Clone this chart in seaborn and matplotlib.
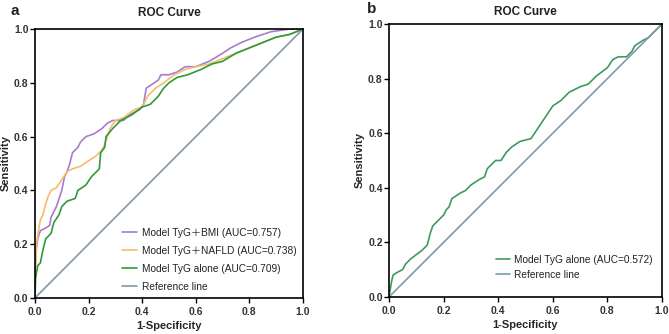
import seaborn as sns
import matplotlib.pyplot as plt
import pandas as pd

# ROC points (1-specificity, sensitivity)
bmi_fpr = [0.0, 0.0, 0.005, 0.01, 0.02, 0.04, 0.055, 0.06, 0.08, 0.09, 0.10, 0.11, 0.12, 0.13, 0.14, 0.16, 0.17,
           0.19, 0.22, 0.25, 0.27, 0.29, 0.33, 0.35, 0.39, 0.405, 0.415, 0.43, 0.46, 0.47, 0.50, 0.53, 0.56, 0.60,
           0.65, 0.70, 0.73, 0.77, 0.82, 0.88, 0.95, 1.0]
bmi_tpr = [0.0, 0.10, 0.18, 0.22, 0.25, 0.26, 0.27, 0.30, 0.34, 0.37, 0.40, 0.45, 0.47, 0.50, 0.54, 0.56, 0.58,
           0.60, 0.61, 0.63, 0.65, 0.66, 0.66, 0.68, 0.70, 0.72, 0.78, 0.79, 0.81, 0.83, 0.83, 0.84, 0.86, 0.86,
           0.88, 0.91, 0.93, 0.95, 0.97, 0.99, 1.0, 1.0]

nafld_fpr = [0.0, 0.005, 0.02, 0.03, 0.04, 0.05, 0.06, 0.08, 0.10, 0.12, 0.14, 0.17, 0.20, 0.23, 0.25, 0.26, 0.27,
             0.28, 0.30, 0.33, 0.37, 0.40, 0.42, 0.45, 0.48, 0.52, 0.56, 0.60, 0.65, 0.70, 0.75, 0.80, 0.85, 0.90,
             0.95, 1.0]
nafld_tpr = [0.0, 0.20, 0.29, 0.31, 0.35, 0.38, 0.40, 0.41, 0.44, 0.47, 0.48, 0.49, 0.51, 0.53, 0.55, 0.57, 0.60,
             0.63, 0.66, 0.67, 0.70, 0.71, 0.75, 0.78, 0.80, 0.83, 0.85, 0.86, 0.87, 0.89, 0.91, 0.93, 0.95, 0.97,
             0.98, 1.0]

tyg_fpr = [0.0, 0.002, 0.005, 0.01, 0.02, 0.03, 0.04, 0.06, 0.07, 0.09, 0.10, 0.12, 0.15, 0.16, 0.19, 0.21, 0.23,
           0.24, 0.245, 0.26, 0.265, 0.29, 0.32, 0.36, 0.40, 0.43, 0.46, 0.48, 0.50, 0.53, 0.57, 0.62, 0.66, 0.70,
           0.75, 0.80, 0.85, 0.90, 0.95, 1.0]
tyg_tpr = [0.0, 0.07, 0.09, 0.12, 0.13, 0.18, 0.22, 0.24, 0.28, 0.31, 0.34, 0.36, 0.37, 0.40, 0.42, 0.45, 0.47,
           0.48, 0.54, 0.56, 0.60, 0.63, 0.66, 0.68, 0.71, 0.72, 0.75, 0.78, 0.80, 0.82, 0.83, 0.85, 0.87, 0.88,
           0.91, 0.93, 0.95, 0.97, 0.98, 1.0]

# second cohort
b_fpr = [0.0, 0.005, 0.01, 0.015, 0.03, 0.05, 0.06, 0.08, 0.10, 0.12, 0.14, 0.15, 0.16, 0.18, 0.20, 0.21, 0.22,
         0.23, 0.26, 0.28, 0.30, 0.33, 0.35, 0.36, 0.39, 0.41, 0.43, 0.45, 0.48, 0.52, 0.54, 0.56, 0.58, 0.60,
         0.63, 0.66, 0.70, 0.73, 0.76, 0.80, 0.82, 0.84, 0.87, 0.89, 0.90, 0.93, 0.95, 0.97, 1.0]
b_tpr = [0.0, 0.03, 0.06, 0.08, 0.09, 0.10, 0.12, 0.14, 0.155, 0.17, 0.19, 0.23, 0.26, 0.28, 0.30, 0.32, 0.33,
         0.36, 0.38, 0.39, 0.41, 0.43, 0.44, 0.47, 0.50, 0.50, 0.53, 0.55, 0.57, 0.58, 0.61, 0.64, 0.67, 0.70,
         0.72, 0.75, 0.77, 0.78, 0.81, 0.84, 0.87, 0.88, 0.88, 0.90, 0.92, 0.94, 0.95, 0.97, 1.0]

ref = [0.0, 1.0]

labels_a = ['Model TyG\uff0bBMI (AUC=0.757)', 'Model TyG\uff0bNAFLD (AUC=0.738)',
            'Model TyG alone (AUC=0.709)', 'Reference line']
labels_b = ['Model TyG alone (AUC=0.572)', 'Reference line']
ticks = [0, 0.2, 0.4, 0.6, 0.8, 1.0]
tick_labels = ['0.0', '0.2', '0.4', '0.6', '0.8', '1.0']

df_a = pd.concat([
    pd.DataFrame({'x': bmi_fpr, 'y': bmi_tpr, 'model': labels_a[0]}),
    pd.DataFrame({'x': nafld_fpr, 'y': nafld_tpr, 'model': labels_a[1]}),
    pd.DataFrame({'x': tyg_fpr, 'y': tyg_tpr, 'model': labels_a[2]}),
    pd.DataFrame({'x': ref, 'y': ref, 'model': labels_a[3]}),
])
df_b = pd.concat([
    pd.DataFrame({'x': b_fpr, 'y': b_tpr, 'model': labels_b[0]}),
    pd.DataFrame({'x': ref, 'y': ref, 'model': labels_b[1]}),
])

pal_a = dict(zip(labels_a, ['#A67DCE', '#F5BD6A', '#2E9A3C', '#7E9AAC']))
pal_b = dict(zip(labels_b, ['#3F9A62', '#7E9AAC']))

sns.set_style('ticks')
plt.rcParams['font.family'] = ['Liberation Sans', 'Noto Sans CJK SC', 'DejaVu Sans']
plt.rcParams['text.color'] = '#222222'

fig = plt.figure(figsize=(6.69, 3.34), dpi=100)
ax1 = fig.add_axes([0.0523, 0.108, 0.4006, 0.805])
ax2 = fig.add_axes([0.5815, 0.111, 0.408, 0.817])

sns.lineplot(data=df_a, x='x', y='y', hue='model', palette=pal_a, sort=False, estimator=None,
             linewidth=1.2, ax=ax1)
sns.lineplot(data=df_b, x='x', y='y', hue='model', palette=pal_b, sort=False, estimator=None,
             linewidth=1.2, ax=ax2)

for ax in [ax1, ax2]:
    ax.set_xlim(0, 1)
    ax.set_ylim(0, 1)
    ax.set_xticks(ticks)
    ax.set_yticks(ticks)
    ax.set_xticklabels(tick_labels, fontsize=7.5, fontweight='bold', color='#333333')
    ax.set_yticklabels(tick_labels, fontsize=7.5, fontweight='bold', color='#333333')
    ax.tick_params(length=3.6, width=1, color='black')
    ax.tick_params(axis='y', pad=1)
    ax.tick_params(axis='x', pad=3)
    for s in ax.spines.values():
        s.set_linewidth(1.2)
        s.set_color('black')
    ax.set_xlabel('1-Specificity', fontsize=8, fontweight='bold', labelpad=3)
    ax.set_ylabel('Sensitivity', fontsize=8, fontweight='bold', labelpad=2)

ax1.set_title('ROC Curve', fontsize=8.5, fontweight='bold', pad=9.3)
ax2.set_title('ROC Curve', fontsize=8.5, fontweight='bold', pad=6.6)

ax1.legend(title=None, frameon=False, fontsize=7.3, loc='lower left', bbox_to_anchor=(0.29, -0.012),
           handlelength=1.5, handletextpad=0.5, labelspacing=0.8)
ax2.legend(title=None, frameon=False, fontsize=7.3, loc='lower left', bbox_to_anchor=(0.36, 0.03),
           handlelength=1.3, handletextpad=0.4, labelspacing=0.49)

fig.text(0.015, 0.955, 'a', fontsize=11, fontweight='bold', va='baseline')
fig.text(0.5486, 0.961, 'b', fontsize=11, fontweight='bold', va='baseline')

plt.savefig('out.png', dpi=100)
